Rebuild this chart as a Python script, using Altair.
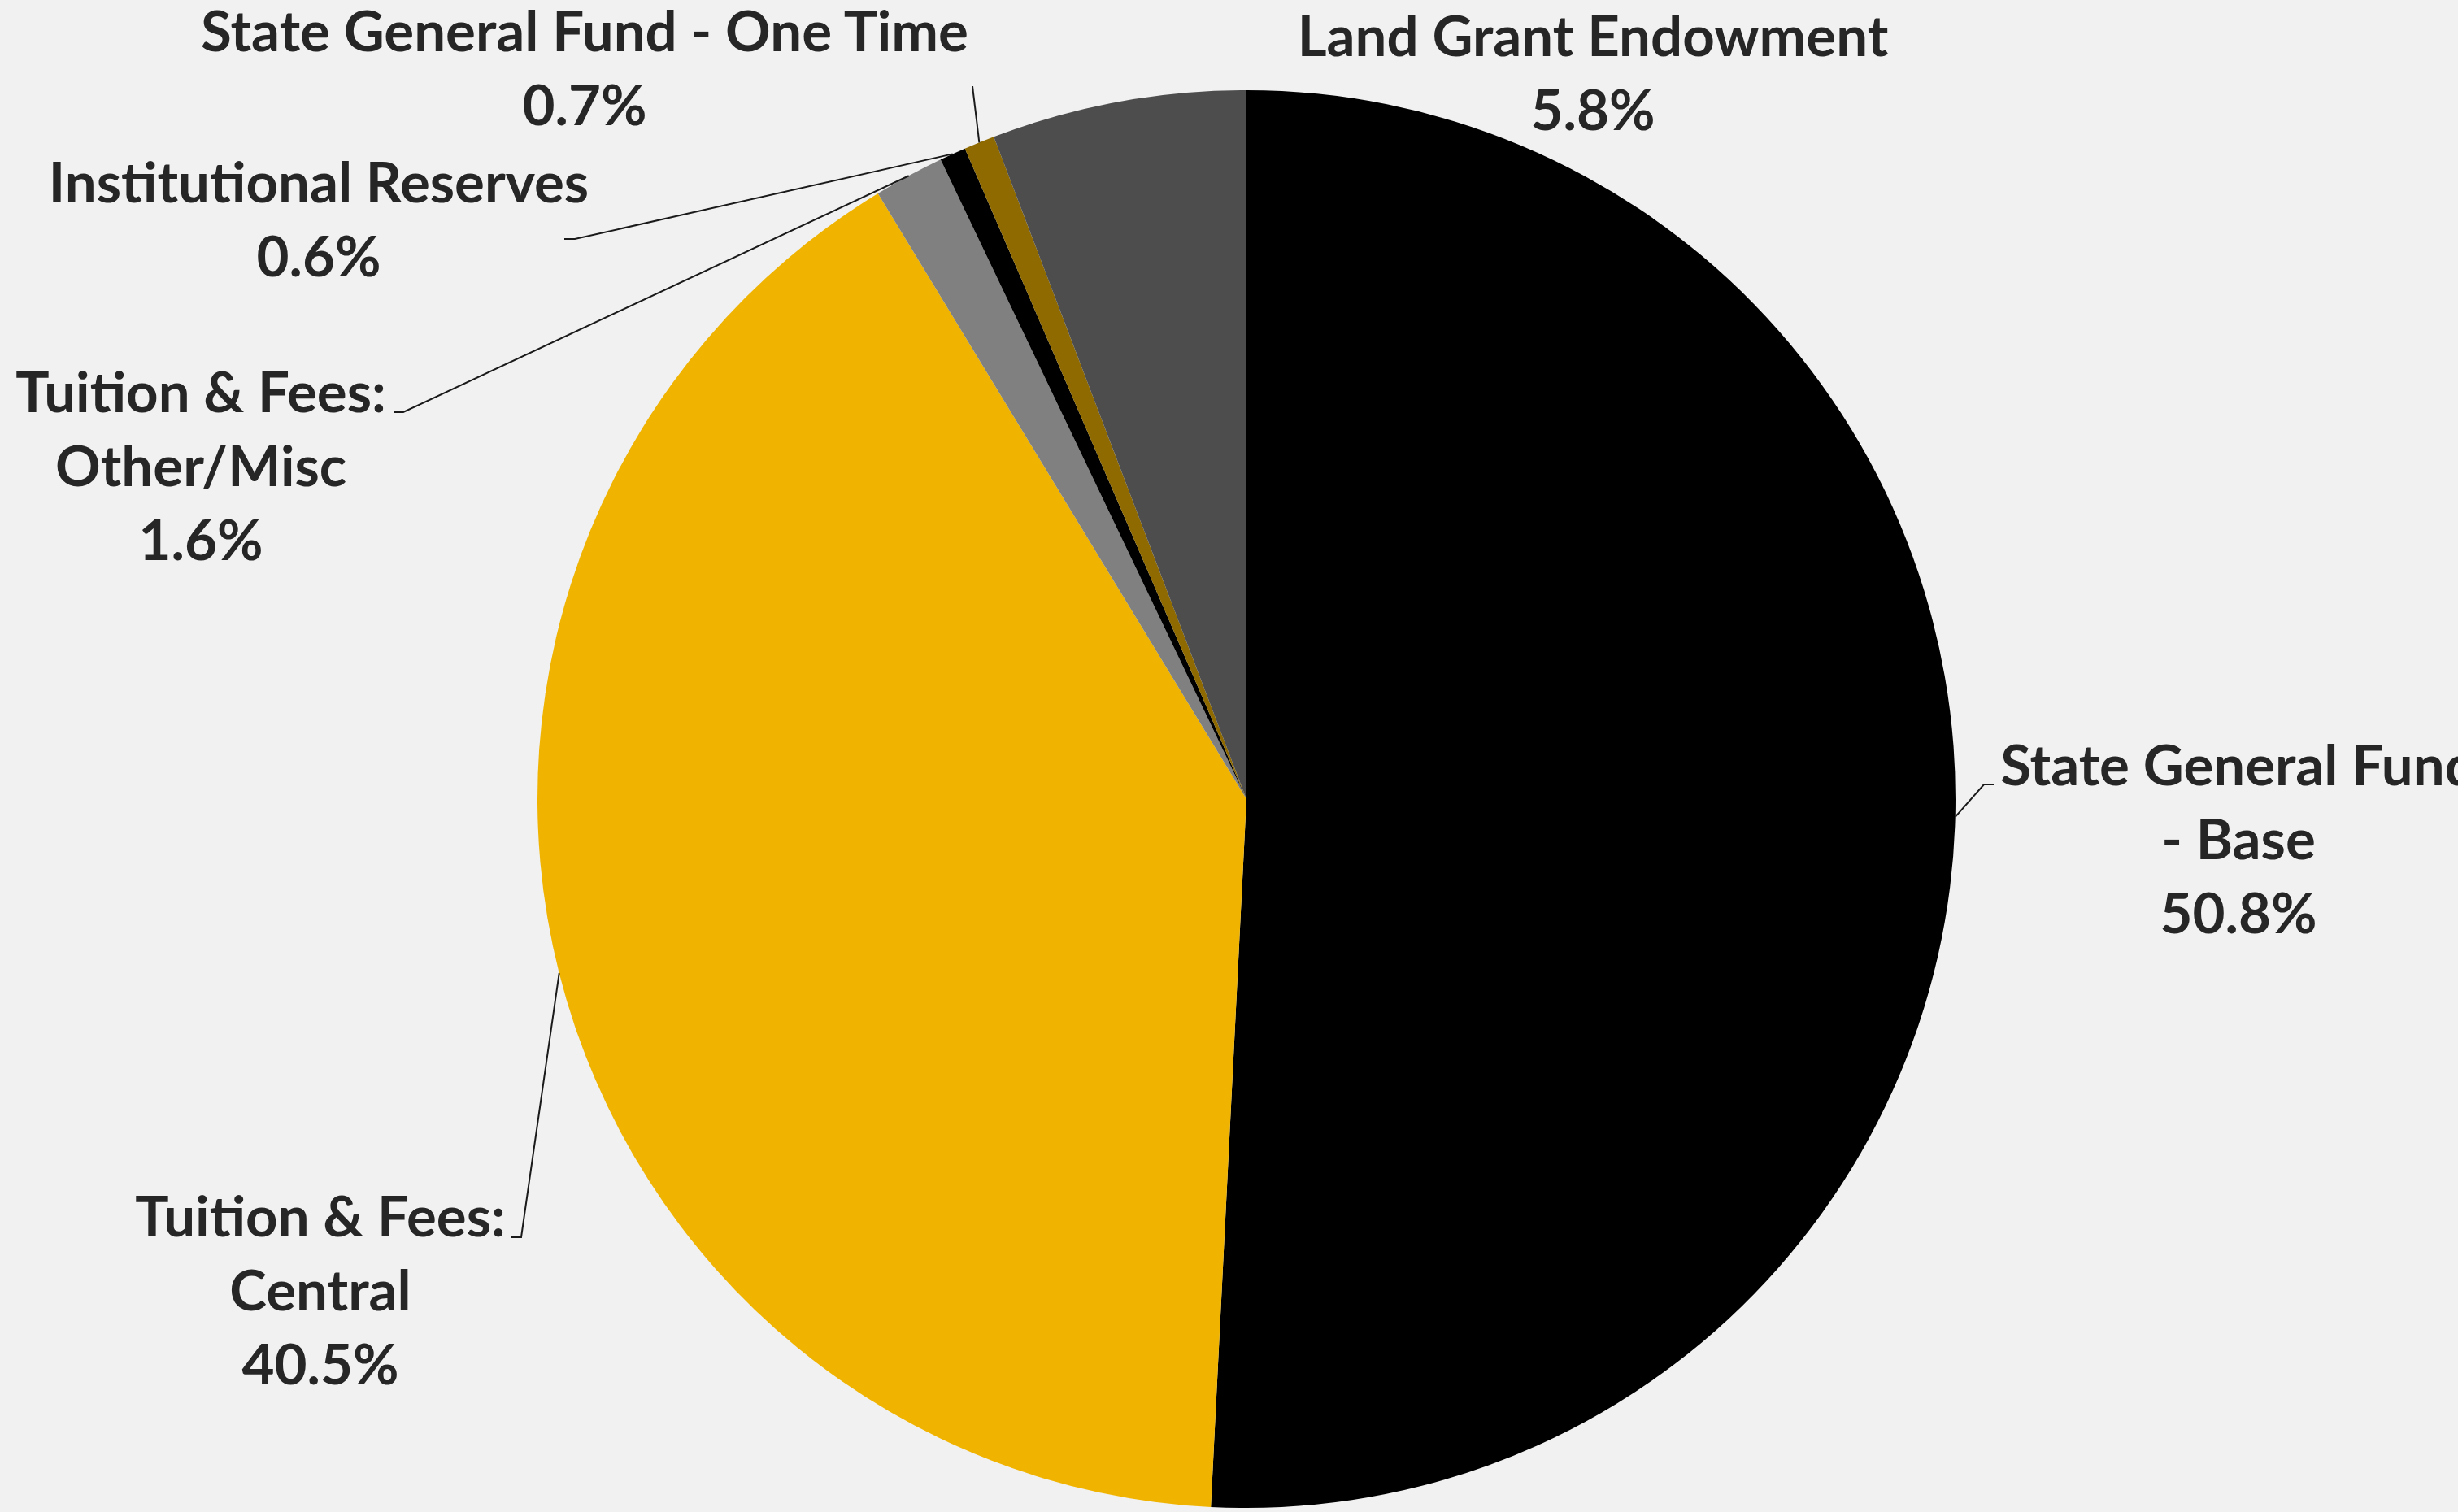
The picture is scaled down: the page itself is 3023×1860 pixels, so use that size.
import math
import altair as alt
import pandas as pd

# ---- data ----
categories = [
    "State General Fund - Base",
    "Tuition & Fees: Central",
    "Tuition & Fees: Other/Misc",
    "Institutional Reserves",
    "State General Fund - One Time",
    "Land Grant Endowment",
]
label_names = [
    "State General Fund\n- Base",
    "Tuition & Fees:\nCentral",
    "Tuition & Fees:\nOther/Misc",
    "Institutional Reserves",
    "State General Fund - One Time",
    "Land Grant Endowment",
]
shares = [50.8, 40.5, 1.6, 0.6, 0.7, 5.8]
colors = ["#000000", "#F0B400", "#808080", "#000000", "#8F6A00", "#4D4D4D"]

# ---- layout (pixels) ----
W, H = 3023, 1860
CX, CY, R = 1533, 983, 872
# (center x, first-line center y) of each label block
label_pos = [(2753, 945), (394, 1500), (247, 486), (392, 228), (719, 42), (1959, 48)]
leader_elbows = [
    [(2440, 965), (2452, 965)],
    [(641, 1522), (629, 1522)],
    [(496, 507), (484, 507)],
    [(707, 294), (694, 294)],
    [(1196, 106)],
    [],
]

df = pd.DataFrame({
    "category": categories,
    "share": shares,
    "idx": list(range(len(categories))),
})

# label table
df_lab = pd.DataFrame({
    "category": categories,
    "label": [f"{n}\n{s:.1f}%" for n, s in zip(label_names, shares)],
    "lx": [p[0] for p in label_pos],
    "ly": [p[1] for p in label_pos],
})

# leader lines: start at slice mid-angle on the pie edge
rows = []
total = sum(shares)
cum = 0.0
for i, (cat, s) in enumerate(zip(categories, shares)):
    mid = (cum + s / 2) / total * 2 * math.pi
    cum += s
    if not leader_elbows[i]:
        continue
    ex = CX + R * math.sin(mid)
    ey = CY - R * math.cos(mid)
    pts = [(ex, ey)] + leader_elbows[i]
    for j, (px, py) in enumerate(pts):
        rows.append({"category": cat, "seq": j, "px": px, "py": py})
df_lines = pd.DataFrame(rows)

arcs = alt.Chart(df).mark_arc(radius=R, x=CX, y=CY).encode(
    theta=alt.Theta("share:Q", stack=True),
    color=alt.Color("category:N", scale=alt.Scale(domain=categories, range=colors), legend=None),
    order=alt.Order("idx:Q"),
)

lines = alt.Chart(df_lines).mark_line(color="#1a1a1a", strokeWidth=2).encode(
    x=alt.X("px:Q", scale=None),
    y=alt.Y("py:Q", scale=None),
    detail="category:N",
    order="seq:Q",
)

texts = alt.Chart(df_lab).mark_text(
    lineBreak="\n", font="Lato", fontWeight="bold", fontSize=69,
    lineHeight=91, color="#262626", align="center", baseline="middle",
).encode(
    x=alt.X("lx:Q", scale=None),
    y=alt.Y("ly:Q", scale=None),
    text="label:N",
)

chart = alt.layer(arcs, lines, texts).properties(
    width=W, height=H, background="#F1F1F1", padding=0, autosize="none"
).configure_view(stroke=None)

chart.save("out.html", embed_options={"renderer": "svg", "actions": False})
